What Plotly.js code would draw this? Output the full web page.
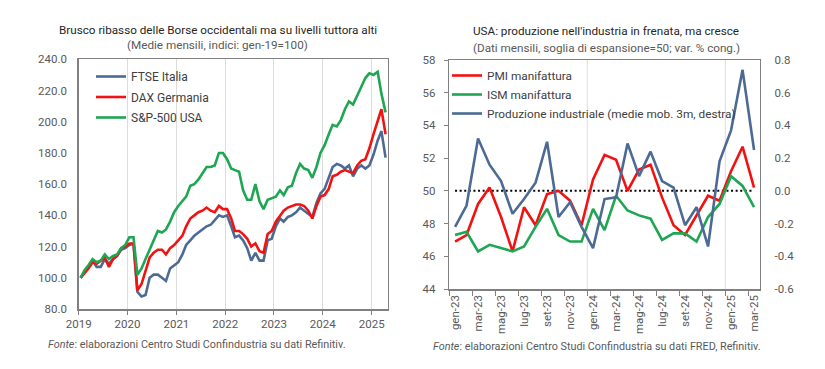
<!DOCTYPE html>
<html><head><meta charset="utf-8">
<script src="https://cdn.plot.ly/plotly-3.0.1.min.js"></script>
<style>html,body{margin:0;padding:0;background:#fff;}#chart{width:825px;height:369px;}</style>
</head><body><div id="chart"></div>
<script>
// ---- Left chart: monthly averages, index gen-19 = 100 (Jan 2019 .. Apr 2025)
const startYear = 2019;
const ftseItalia = [
  100,104,107,111,107,107,112,109,112,114,118,119,
  121,122,91,88,89,100,102,102,100,98,106,108,
  110,115,121,124,127,129,131,133,134,137,140,139,
  140,133,126,127,124,119,111,116,111,111,124,125,
  133,138,136,139,140,142,145,143,141,139,148,154,
  157,164,171,173,172,170,172,165,170,172,170,172,
  179,188,194,177
];
const daxGermania = [
  100,103,106,110,109,111,113,107,112,114,119,120,
  122,122,92,96,104,113,116,118,118,115,119,121,
  124,127,133,138,140,142,143,145,143,142,146,144,
  144,138,130,130,128,125,120,122,117,116,128,130,
  136,140,143,145,146,147,147,146,143,138,146,152,
  153,157,165,166,168,169,168,167,172,175,176,183,
  192,200,208,192
];
const sp500Usa = [
  100,105,108,112,110,111,115,112,114,115,119,121,
  126,126,102,106,112,118,123,130,129,131,136,142,
  146,149,152,159,160,163,167,171,171,172,180,180,
  176,170,169,168,156,150,150,160,149,144,150,151,
  152,156,153,158,159,167,173,170,169,164,171,180,
  185,192,198,197,201,208,213,211,217,222,228,231,
  230,232,218,206
];
const leftNames = ['FTSE Italia','DAX Germania','S&P-500 USA'];

// ---- Right chart: USA monthly (gen-23 .. mar-25)
const monthsUS = ['gen-23','feb-23','mar-23','apr-23','mag-23','giu-23','lug-23','ago-23','set-23','ott-23','nov-23','dic-23',
  'gen-24','feb-24','mar-24','apr-24','mag-24','giu-24','lug-24','ago-24','set-24','ott-24','nov-24','dic-24',
  'gen-25','feb-25','mar-25'];
const pmiManifattura = [46.9,47.3,49.2,50.2,48.4,46.3,49.0,47.9,49.8,50.0,49.4,47.9,50.7,52.2,51.9,50.0,51.3,51.6,49.6,47.9,47.3,48.5,49.7,49.4,51.2,52.7,50.2];
const ismManifattura = [47.3,47.5,46.3,46.7,46.5,46.3,46.6,47.8,48.9,47.3,46.9,46.9,48.9,47.6,49.7,48.8,48.5,48.3,47.0,47.4,47.4,46.9,48.4,49.2,50.9,50.3,49.0];
const produzioneInd = [-0.22,-0.09,0.32,0.16,0.06,-0.14,-0.05,0.05,0.30,-0.16,-0.07,-0.22,-0.35,-0.05,-0.04,0.29,0.09,0.24,0.06,0.02,-0.21,-0.10,-0.34,0.18,0.37,0.74,0.25];
const soglia = 50;
const rightNames = ['PMI manifattura','ISM manifattura','Produzione industriale (medie mob. 3m, destra)'];
const rightTickVals = [-0.6,-0.4,-0.2,0.0,0.2,0.4,0.6,0.8];
const rightTickText = ['-0.6','-0.4','-0.2','0.0','0.2','0.4','0.6','0.8'];

// ---- helpers
const W = 825, H = 369;
const fx = p => p / W, fy = p => 1 - p / H;
const dates = ftseItalia.map((_, i) => {
  const y = startYear + Math.floor(i / 12), m = (i % 12) + 1;
  return y + '-' + String(m).padStart(2, '0') + '-15';
});
const xIdx = monthsUS.map((_, i) => i);
const evenIdx = xIdx.filter(i => i % 2 === 0);

const BLUE = '#4C6A93', RED = '#F21212', GREEN = '#1FA653';
const AX = '#808080', TXT = '#595959';

const traces = [
  {x: dates, y: ftseItalia, name: leftNames[0], type: 'scatter', mode: 'lines', line: {color: BLUE, width: 2.6}, xaxis: 'x', yaxis: 'y', legend: 'legend', legendgroup: 'a'},
  {x: dates, y: daxGermania, name: leftNames[1], type: 'scatter', mode: 'lines', line: {color: RED, width: 2.6}, xaxis: 'x', yaxis: 'y', legend: 'legend', legendgroup: 'b'},
  {x: dates, y: sp500Usa, name: leftNames[2], type: 'scatter', mode: 'lines', line: {color: GREEN, width: 2.6}, xaxis: 'x', yaxis: 'y', legend: 'legend', legendgroup: 'c'},
  {x: xIdx, y: xIdx.map(() => soglia), name: 'soglia', type: 'scatter', mode: 'lines', line: {color: '#000', width: 2, dash: '2px,2.6px'}, xaxis: 'x2', yaxis: 'y2', showlegend: false},
  {x: xIdx, y: pmiManifattura, name: rightNames[0], type: 'scatter', mode: 'lines', line: {color: RED, width: 2.6}, xaxis: 'x2', yaxis: 'y2', legend: 'legend2'},
  {x: xIdx, y: ismManifattura, name: rightNames[1], type: 'scatter', mode: 'lines', line: {color: GREEN, width: 2.6}, xaxis: 'x2', yaxis: 'y2', legend: 'legend2'},
  {x: xIdx, y: produzioneInd, name: rightNames[2], type: 'scatter', mode: 'lines', line: {color: BLUE, width: 2.6}, xaxis: 'x2', yaxis: 'y3', legend: 'legend2'}
];

const axBase = {showline: true, linecolor: AX, linewidth: 1.5, mirror: true, zeroline: false, tickfont: {size: 11.5, color: TXT}};

const layout = {
  width: W, height: H, margin: {l: 0, r: 0, t: 0, b: 0},
  paper_bgcolor: '#fff', plot_bgcolor: '#fff',
  font: {family: 'Roboto, sans-serif', size: 11.5, color: TXT},
  xaxis: Object.assign({}, axBase, {
    domain: [fx(78.7), fx(387.7)], anchor: 'y', type: 'date',
    range: ['2019-01-01', '2025-05-01'], tick0: '2019-01-01', dtick: 'M12', tickformat: '%Y',
    ticks: 'outside', ticklen: 4, tickcolor: AX, showgrid: true, gridcolor: '#dcdcdc', gridwidth: 1
  }),
  yaxis: Object.assign({}, axBase, {
    domain: [fy(309), fy(59.3)], anchor: 'x', range: [80, 240], dtick: 20, tickformat: '.1f',
    showgrid: false, ticks: '', ticklabelstandoff: 8
  }),
  xaxis2: Object.assign({}, axBase, {
    domain: [fx(449.3), fx(759.8)], anchor: 'y2', range: [-0.5, 26.5],
    tickmode: 'array', tickvals: evenIdx, ticktext: evenIdx.map(i => monthsUS[i]), tickangle: -90,
    ticks: '', showgrid: false,
    minor: {ticks: 'outside', ticklen: 5, tickcolor: AX, tick0: -0.5, dtick: 2, showgrid: false}
  }),
  yaxis2: Object.assign({}, axBase, {
    domain: [fy(289), fy(60)], anchor: 'x2', range: [44, 58], dtick: 2,
    ticks: 'outside', ticklen: 4, tickcolor: AX, showgrid: false, ticklabelstandoff: 6
  }),
  yaxis3: Object.assign({}, axBase, {
    overlaying: 'y2', anchor: 'x2', side: 'right', range: [-0.6, 0.8],
    tickmode: 'array', tickvals: rightTickVals, ticktext: rightTickText,
    showgrid: false, mirror: false, ticks: '', ticklabelstandoff: 11
  }),
  shapes: [11.5, 23.5].map(v => ({type: 'line', xref: 'x2', yref: 'y2 domain', x0: v, x1: v, y0: 0, y1: 1, line: {color: '#dcdcdc', width: 1}, layer: 'below'})),
  legend: {x: fx(91), y: fy(62), xanchor: 'left', yanchor: 'top', bgcolor: 'rgba(0,0,0,0)', traceorder: 'grouped', tracegroupgap: 1.5, font: {size: 12, color: '#404040'}},
  legend2: {x: fx(447), y: fy(61), xanchor: 'left', yanchor: 'top', bgcolor: 'rgba(0,0,0,0)', font: {size: 11.8, color: '#404040'}},
  annotations: [
    {text: 'Brusco ribasso delle Borse occidentali ma su livelli tuttora alti', xref: 'paper', yref: 'paper', x: fx(218), y: fy(30), xanchor: 'center', yanchor: 'middle', showarrow: false, font: {size: 11.7, color: '#262626'}},
    {text: '(Medie mensili, indici: gen-19=100)', xref: 'paper', yref: 'paper', x: fx(218), y: fy(45), xanchor: 'center', yanchor: 'middle', showarrow: false, font: {size: 11.7, color: TXT}},
    {text: 'USA: produzione nell\'industria in frenata, ma cresce', xref: 'paper', yref: 'paper', x: fx(606), y: fy(31), xanchor: 'center', yanchor: 'middle', showarrow: false, font: {size: 11.7, color: '#262626'}},
    {text: '(Dati mensili, soglia di espansione=50; var. % cong.)', xref: 'paper', yref: 'paper', x: fx(606), y: fy(48), xanchor: 'center', yanchor: 'middle', showarrow: false, font: {size: 11.7, color: TXT}},
    {text: '<i>Fonte</i>: elaborazioni Centro Studi Confindustria su dati Refinitiv.', xref: 'paper', yref: 'paper', x: fx(46), y: fy(344), xanchor: 'left', yanchor: 'middle', showarrow: false, font: {size: 10.8, color: TXT}},
    {text: '<i>Fonte</i>: elaborazioni Centro Studi Confindustria su dati FRED, Refinitiv.', xref: 'paper', yref: 'paper', x: fx(431), y: fy(346), xanchor: 'left', yanchor: 'middle', showarrow: false, font: {size: 10.8, color: TXT}}
  ]
};

Plotly.newPlot('chart', traces, layout, {displayModeBar: false, staticPlot: true});
</script></body></html>
